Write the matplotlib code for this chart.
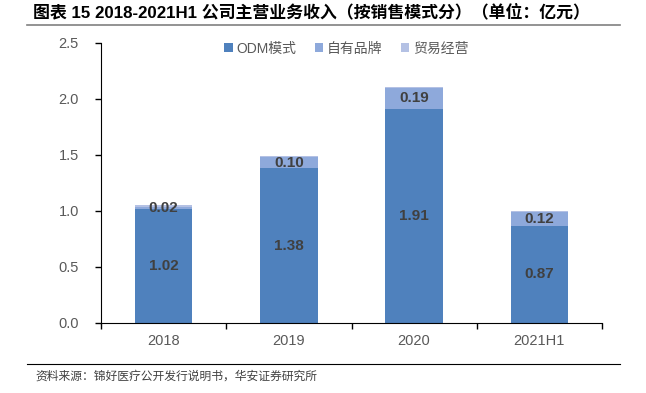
import matplotlib
matplotlib.use("Agg")
import matplotlib.pyplot as plt
from matplotlib.lines import Line2D
import numpy as np

plt.rcParams['font.family'] = ['Liberation Sans', 'Noto Sans CJK SC', 'DejaVu Sans']

categories = ['2018', '2019', '2020', '2021H1']
odm = [1.02, 1.38, 1.91, 0.87]
own_brand = [0.02, 0.10, 0.19, 0.12]
trade = [0.01, 0.01, 0.01, 0.01]
series_names = ['ODM模式', '自有品牌', '贸易经营']
colors = ['#4F81BD', '#8EA9DB', '#B4C1E4']

fig = plt.figure(figsize=(6.46, 3.93), dpi=100)
ax = fig.add_axes([101/646, 1-323/393, 501/646, 280/393])

x = np.arange(len(categories))
w = 0.46
odm_a = np.array(odm); own_a = np.array(own_brand); tr_a = np.array(trade)
ax.bar(x, odm_a, w, color=colors[0], label=series_names[0])
ax.bar(x, own_a, w, bottom=odm_a, color=colors[1], label=series_names[1])
ax.bar(x, tr_a, w, bottom=odm_a+own_a, color=colors[2], label=series_names[2])

for i in range(len(categories)):
    ax.text(x[i], odm_a[i]/2, f'{odm[i]:.2f}', ha='center', va='center',
            fontsize=11, fontweight='bold', color='#404040')
    ax.text(x[i], odm_a[i]+own_a[i]/2, f'{own_brand[i]:.2f}', ha='center', va='center',
            fontsize=11, fontweight='bold', color='#404040')

ax.set_xlim(-0.5, len(categories)-0.5)
ax.set_ylim(0, 2.5)
yt = np.arange(0, 2.51, 0.5)
ax.set_yticks(yt)
ax.set_yticklabels([f'{v:.1f}' for v in yt])
ax.set_xticks(x)
ax.set_xticklabels(categories)
ax.set_xticks(np.arange(-0.5, len(categories), 1.0), minor=True)
ax.tick_params(axis='x', which='major', length=0, pad=8, labelsize=10.5, labelcolor='#595959')
ax.tick_params(axis='x', which='minor', length=4, width=1, direction='out', color='black')
ax.tick_params(axis='y', length=4, width=1, direction='out', labelsize=10.5, labelcolor='#595959', pad=12)
ax.spines['top'].set_visible(False)
ax.spines['right'].set_visible(False)
ax.spines['left'].set_color('black')
ax.spines['bottom'].set_color('black')

ax.legend(loc='upper center', bbox_to_anchor=(0.49, 1.05), ncol=3, frameon=False,
          fontsize=10, handlelength=0.6, handleheight=0.6, handletextpad=0.3,
          columnspacing=1.3, labelcolor='#595959')

fig.text(33/646, 1-12/393, '图表 15 2018-2021H1 公司主营业务收入（按销售模式分）（单位：亿元）',
         fontsize=12.2, fontweight='bold', va='center', ha='left', color='black')
fig.add_artist(Line2D([27/646, 620/646], [1-25/393, 1-25/393], color='#808080', lw=1.2))
fig.add_artist(Line2D([27/646, 620/646], [1-364/393, 1-364/393], color='black', lw=0.8))
fig.text(35/646, 1-377/393, '资料来源：锦好医疗公开发行说明书，华安证券研究所',
         fontsize=8.5, va='center', ha='left', color='#404040')

fig.savefig('out.png', dpi=100)
